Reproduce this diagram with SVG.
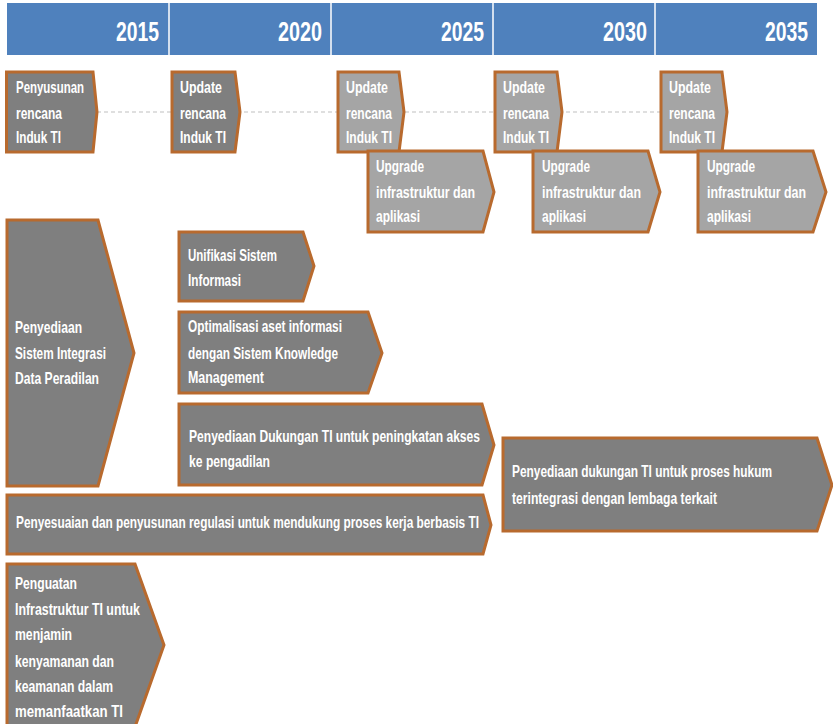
<svg xmlns="http://www.w3.org/2000/svg" width="833" height="724" viewBox="0 0 833 724">
<style>
.hdr{fill:#4F81BD}
.div{stroke:#FFFFFF;stroke-width:1.5}
.yr{font-family:"Liberation Sans",Arial,sans-serif;font-weight:bold;font-size:28px;fill:#FFFFFF}
.nd{stroke:#B86A2E;stroke-width:3;stroke-linejoin:miter}
.dk{fill:#7F7F7F}
.lt{fill:#A5A5A5}
.t{font-family:"Liberation Sans",Arial,sans-serif;font-weight:bold;font-size:17px;fill:#FFFFFF}
.dash{stroke:#BFBFBF;stroke-width:1;stroke-dasharray:4 3;fill:none}
</style>
<rect width="833" height="724" fill="#FFFFFF"/>
<g id="header">
<rect class="hdr" x="7" y="3" width="810" height="52"/>
<line class="div" x1="169" y1="3" x2="169" y2="55"/>
<line class="div" x1="331" y1="3" x2="331" y2="55"/>
<line class="div" x1="493" y1="3" x2="493" y2="55"/>
<line class="div" x1="655" y1="3" x2="655" y2="55"/>
<text class="yr" x="116" y="41" textLength="43" lengthAdjust="spacingAndGlyphs">2015</text>
<text class="yr" x="278" y="41" textLength="44" lengthAdjust="spacingAndGlyphs">2020</text>
<text class="yr" x="441" y="41" textLength="43" lengthAdjust="spacingAndGlyphs">2025</text>
<text class="yr" x="603" y="41" textLength="44" lengthAdjust="spacingAndGlyphs">2030</text>
<text class="yr" x="765" y="41" textLength="43" lengthAdjust="spacingAndGlyphs">2035</text>
</g>
<g id="connectors">
<line class="dash" x1="97" y1="112" x2="661" y2="112"/>
</g>
<g id="n-penyusunan">
<polygon class="nd dk" points="6.5,72 93,72 97,112 93,152 6.5,152"/>
<text class="t" x="16" y="93" textLength="68" lengthAdjust="spacingAndGlyphs">Penyusunan</text>
<text class="t" x="16" y="119" textLength="46" lengthAdjust="spacingAndGlyphs">rencana</text>
<text class="t" x="16" y="143" textLength="45" lengthAdjust="spacingAndGlyphs">Induk TI</text>
</g>
<g id="n-update-2020">
<polygon class="nd dk" points="172,72 235,72 240,112 235,152 172,152"/>
<text class="t" x="180" y="93" textLength="42" lengthAdjust="spacingAndGlyphs">Update</text>
<text class="t" x="180" y="119" textLength="46" lengthAdjust="spacingAndGlyphs">rencana</text>
<text class="t" x="180" y="143" textLength="46" lengthAdjust="spacingAndGlyphs">Induk TI</text>
</g>
<g id="n-update-2025">
<polygon class="nd lt" points="338,72 399,72 404,112 399,152 338,152"/>
<text class="t" x="346" y="93" textLength="42" lengthAdjust="spacingAndGlyphs">Update</text>
<text class="t" x="346" y="119" textLength="46" lengthAdjust="spacingAndGlyphs">rencana</text>
<text class="t" x="346" y="143" textLength="46" lengthAdjust="spacingAndGlyphs">Induk TI</text>
</g>
<g id="n-update-2030">
<polygon class="nd lt" points="495,72 557,72 562,112 557,152 495,152"/>
<text class="t" x="503" y="93" textLength="42" lengthAdjust="spacingAndGlyphs">Update</text>
<text class="t" x="503" y="119" textLength="46" lengthAdjust="spacingAndGlyphs">rencana</text>
<text class="t" x="503" y="143" textLength="46" lengthAdjust="spacingAndGlyphs">Induk TI</text>
</g>
<g id="n-update-2035">
<polygon class="nd lt" points="661,72 722,72 727,112 722,152 661,152"/>
<text class="t" x="669" y="93" textLength="42" lengthAdjust="spacingAndGlyphs">Update</text>
<text class="t" x="669" y="119" textLength="46" lengthAdjust="spacingAndGlyphs">rencana</text>
<text class="t" x="669" y="143" textLength="46" lengthAdjust="spacingAndGlyphs">Induk TI</text>
</g>
<g id="n-upgrade-2025">
<polygon class="nd lt" points="368,151 483,151 494,192 483,232 368,232"/>
<text class="t" x="376" y="172" textLength="48" lengthAdjust="spacingAndGlyphs">Upgrade</text>
<text class="t" x="376" y="198" textLength="99" lengthAdjust="spacingAndGlyphs">infrastruktur dan</text>
<text class="t" x="376" y="222" textLength="44" lengthAdjust="spacingAndGlyphs">aplikasi</text>
</g>
<g id="n-upgrade-2030">
<polygon class="nd lt" points="533,151 648,151 660,192 648,232 533,232"/>
<text class="t" x="542" y="172" textLength="48" lengthAdjust="spacingAndGlyphs">Upgrade</text>
<text class="t" x="542" y="198" textLength="99" lengthAdjust="spacingAndGlyphs">infrastruktur dan</text>
<text class="t" x="542" y="222" textLength="44" lengthAdjust="spacingAndGlyphs">aplikasi</text>
</g>
<g id="n-upgrade-2035">
<polygon class="nd lt" points="698,151 813,151 826,192 813,232 698,232"/>
<g transform="translate(707,0) scale(0.73,1)">
<text class="t" x="0" y="172" textLength="65.8" lengthAdjust="spacingAndGlyphs">Upgrade</text>
<text class="t" x="0" y="198" textLength="135.6" lengthAdjust="spacingAndGlyphs">infrastruktur dan</text>
<text class="t" x="0" y="222" textLength="60.3" lengthAdjust="spacingAndGlyphs">aplikasi</text>
</g>
</g>
<g id="n-integrasi">
<polygon class="nd dk" points="7,220 98,220 134,353 98,486 7,486"/>
<text class="t" x="15" y="333" textLength="67" lengthAdjust="spacingAndGlyphs">Penyediaan</text>
<text class="t" x="15" y="359" textLength="91" lengthAdjust="spacingAndGlyphs">Sistem Integrasi</text>
<text class="t" x="15" y="384" textLength="84" lengthAdjust="spacingAndGlyphs">Data Peradilan</text>
</g>
<g id="n-unifikasi">
<polygon class="nd dk" points="179,232 303,232 314,266 303,301 179,301"/>
<text class="t" x="188" y="261" textLength="89" lengthAdjust="spacingAndGlyphs">Unifikasi Sistem</text>
<text class="t" x="188" y="286" textLength="53" lengthAdjust="spacingAndGlyphs">Informasi</text>
</g>
<g id="n-optimalisasi">
<polygon class="nd dk" points="179,312 368,312 382,353 368,393 179,393"/>
<text class="t" x="188" y="332" textLength="154" lengthAdjust="spacingAndGlyphs">Optimalisasi aset informasi</text>
<text class="t" x="188" y="359" textLength="150" lengthAdjust="spacingAndGlyphs">dengan Sistem Knowledge</text>
<text class="t" x="188" y="383" textLength="76" lengthAdjust="spacingAndGlyphs">Management</text>
</g>
<g id="n-akses">
<polygon class="nd dk" points="179,404 482,404 494,445 482,485 179,485"/>
<text class="t" x="189" y="442" textLength="291" lengthAdjust="spacingAndGlyphs">Penyediaan Dukungan TI untuk peningkatan akses</text>
<text class="t" x="189" y="467" textLength="81" lengthAdjust="spacingAndGlyphs">ke pengadilan</text>
</g>
<g id="n-hukum">
<polygon class="nd dk" points="503,438 817,438 832,485 817,531 503,531"/>
<g transform="translate(512,0) scale(0.7,1)">
<text class="t" x="0" y="477" textLength="371.4" lengthAdjust="spacingAndGlyphs">Penyediaan dukungan TI untuk proses hukum</text>
<text class="t" x="0" y="504" textLength="292.9" lengthAdjust="spacingAndGlyphs">terintegrasi dengan lembaga terkait</text>
</g>
</g>
<g id="n-regulasi">
<polygon class="nd dk" points="7,495 483,495 491,525 483,554 7,554"/>
<text class="t" x="16" y="528" textLength="463" lengthAdjust="spacingAndGlyphs">Penyesuaian dan penyusunan regulasi untuk mendukung proses kerja berbasis TI</text>
</g>
<g id="n-penguatan">
<polygon class="nd dk" points="7,564 135,564 164,645 135,727 7,727"/>
<text class="t" x="15" y="589" textLength="62" lengthAdjust="spacingAndGlyphs">Penguatan</text>
<text class="t" x="15" y="615" textLength="125" lengthAdjust="spacingAndGlyphs">Infrastruktur TI untuk</text>
<text class="t" x="15" y="640" textLength="57" lengthAdjust="spacingAndGlyphs">menjamin</text>
<text class="t" x="15" y="667" textLength="99" lengthAdjust="spacingAndGlyphs">kenyamanan dan</text>
<text class="t" x="15" y="692" textLength="98" lengthAdjust="spacingAndGlyphs">keamanan dalam</text>
<text class="t" x="15" y="717" textLength="108" lengthAdjust="spacingAndGlyphs">memanfaatkan TI</text>
</g>
</svg>
